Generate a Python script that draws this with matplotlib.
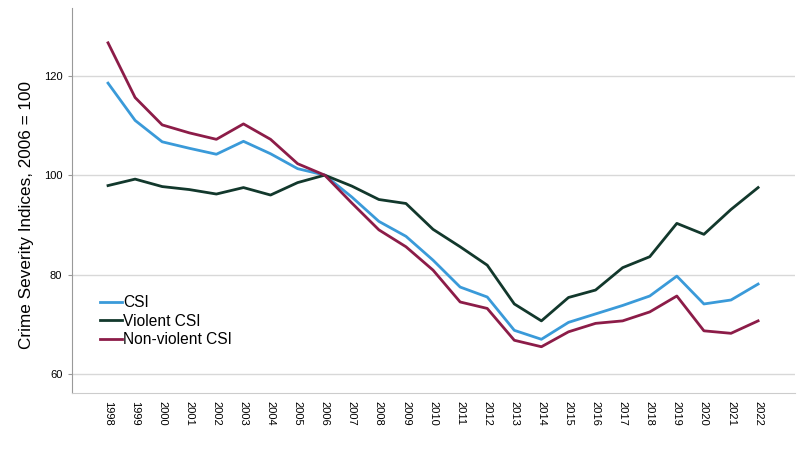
import matplotlib.pyplot as plt
import numpy as np

years = list(range(1998, 2023))
csi = [118.5, 111.0, 106.7, 105.4, 104.2, 106.8, 104.3, 101.3, 100.0, 95.6, 90.7, 87.7,
       82.9, 77.5, 75.5, 68.8, 67.0, 70.4, 72.1, 73.8, 75.7, 79.7, 74.1, 74.9, 78.1]
violent = [97.9, 99.2, 97.7, 97.1, 96.2, 97.5, 96.0, 98.5, 100.0, 97.8, 95.1, 94.3,
           89.1, 85.6, 81.9, 74.1, 70.7, 75.4, 76.9, 81.4, 83.6, 90.3, 88.1, 93.1, 97.5]
nonviolent = [126.6, 115.6, 110.1, 108.5, 107.2, 110.3, 107.2, 102.3, 100.0, 94.4, 89.0, 85.6,
              80.9, 74.5, 73.2, 66.8, 65.5, 68.5, 70.2, 70.7, 72.5, 75.7, 68.7, 68.2, 70.7]

plt.rcParams['font.family'] = ['Liberation Sans', 'DejaVu Sans']

fig = plt.figure(figsize=(8, 4.71), dpi=100)
ax = fig.add_axes([0.09, 0.1656, 0.904, 0.8174])

ax.plot(years, csi, color='#3a9ad9', lw=2, label='CSI')
ax.plot(years, violent, color='#12382c', lw=2, label='Violent CSI')
ax.plot(years, nonviolent, color='#8c1c48', lw=2, label='Non-violent CSI')

ax.set_xlim(1996.67, 2023.37)
ax.set_ylim(56.2, 133.6)
ax.set_yticks([60, 80, 100, 120])
ax.set_xticks(years)
ax.set_xticklabels([str(y) for y in years], rotation=270, fontsize=8)
ax.tick_params(axis='y', labelsize=8, length=3, color='#999999', pad=4)
ax.tick_params(axis='x', length=0, pad=6)
ax.grid(axis='y', color='#d8d8d8', lw=1)
ax.set_axisbelow(True)

for s in ['top', 'right']:
    ax.spines[s].set_visible(False)
ax.spines['left'].set_color('#999999')
ax.spines['bottom'].set_color('#cccccc')

ax.set_ylabel('Crime Severity Indices, 2006 = 100', fontsize=12.3)
ax.yaxis.set_label_coords(-0.052, 0.462)

ax.legend(loc='upper left', bbox_to_anchor=(0.03, 0.27), frameon=False, fontsize=11.2,
          handlelength=1.4, handletextpad=0.1, labelspacing=0.22, borderaxespad=0)

fig.savefig('out.png', dpi=100)
